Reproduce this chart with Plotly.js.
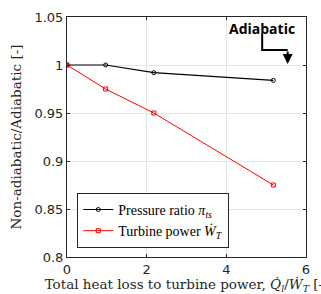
<!DOCTYPE html>
<html><head><meta charset="utf-8">
<script src="https://cdn.plot.ly/plotly-3.0.1.min.js"></script>
<style>body{margin:0;background:#fff}#plot{width:321px;height:294px}</style>
</head><body><div id="plot"></div>
<script>
const heatLoss = [0, 0.97, 2.18, 5.18];
const pressureRatio = [1.0, 1.0, 0.992, 0.984];
const turbinePower = [1.0, 0.975, 0.95, 0.875];
const seriesNames = ['Pressure ratio <i>π<sub>ts</sub></i>', 'Turbine power <i>Ẇ<sub>T</sub></i>'];
const xTicks = [0, 2, 4, 6];
const yTicks = [0.8, 0.85, 0.9, 0.95, 1, 1.05];
const yTickText = ['0.8', '0.85', '0.9', '0.95', '1', '1.05'];

const serif = 'Liberation Serif, DejaVu Serif, serif';
const wideSerif = 'DejaVu Serif, serif';
const traces = [
  {x: heatLoss, y: pressureRatio, name: seriesNames[0], mode: 'lines+markers',
   line: {color: '#000', width: 1.2}, marker: {symbol: 'circle-open', size: 4, color: '#000', line: {width: 1}}},
  {x: heatLoss, y: turbinePower, name: seriesNames[1], mode: 'lines+markers',
   line: {color: '#ff0000', width: 1}, marker: {symbol: 'square-open', size: 4, color: '#ff0000', line: {width: 1}}}
];
const axisCommon = {showline: true, mirror: 'ticks', linecolor: '#262626', linewidth: 1,
  gridcolor: '#e6e6e6', ticks: 'inside', ticklen: 3, tickcolor: '#262626', zeroline: false,
  tickfont: {family: 'DejaVu Sans, sans-serif', size: 13, color: '#262626'}};
const layout = {
  width: 321, height: 294,
  margin: {l: 67, r: 15, t: 17, b: 37},
  paper_bgcolor: '#fff', plot_bgcolor: '#fff',
  font: {family: serif, size: 14, color: '#000'},
  showlegend: true,
  legend: {x: 0.043, y: 0.038, xanchor: 'left', yanchor: 'bottom', bordercolor: '#262626', borderwidth: 1,
    bgcolor: '#fff', font: {family: serif, size: 14, color: '#000'}, itemwidth: 30, tracegroupgap: 0},
  xaxis: Object.assign({}, axisCommon, {range: [0, 6], tickvals: xTicks,
    title: {text: 'Total heat loss to turbine power, <i>Q̇<sub>l</sub></i>/<i>Ẇ<sub>T</sub></i> [-]', font: {family: wideSerif, size: 13.5, color: '#262626'}, standoff: 5}}),
  yaxis: Object.assign({}, axisCommon, {range: [0.8, 1.05], tickvals: yTicks, ticktext: yTickText,
    title: {text: 'Non-adiabatic/Adiabatic [-]', font: {family: wideSerif, size: 13.5, color: '#262626'}, standoff: 9}}),
  annotations: [
    {x: 4.9, y: 1.0385, xref: 'x', yref: 'y', text: '<b>Adiabatic</b>', showarrow: false,
     font: {family: 'Open Sans, sans-serif', size: 14, color: '#000'}},
    {x: 5.54, y: 1.001, ax: 5.54, ay: 1.0156, axref: 'x', ayref: 'y', xref: 'x', yref: 'y', text: '',
     showarrow: true, arrowhead: 2, arrowsize: 1, arrowwidth: 2, arrowcolor: '#000'}
  ],
  shapes: [
    {type: 'path', xref: 'x', yref: 'y', path: 'M 4.9 1.0323 L 4.9 1.0156 L 5.54 1.0156', line: {color: '#000', width: 2}}
  ]
};
Plotly.newPlot('plot', traces, layout, {displayModeBar: false, staticPlot: true});
</script></body></html>
